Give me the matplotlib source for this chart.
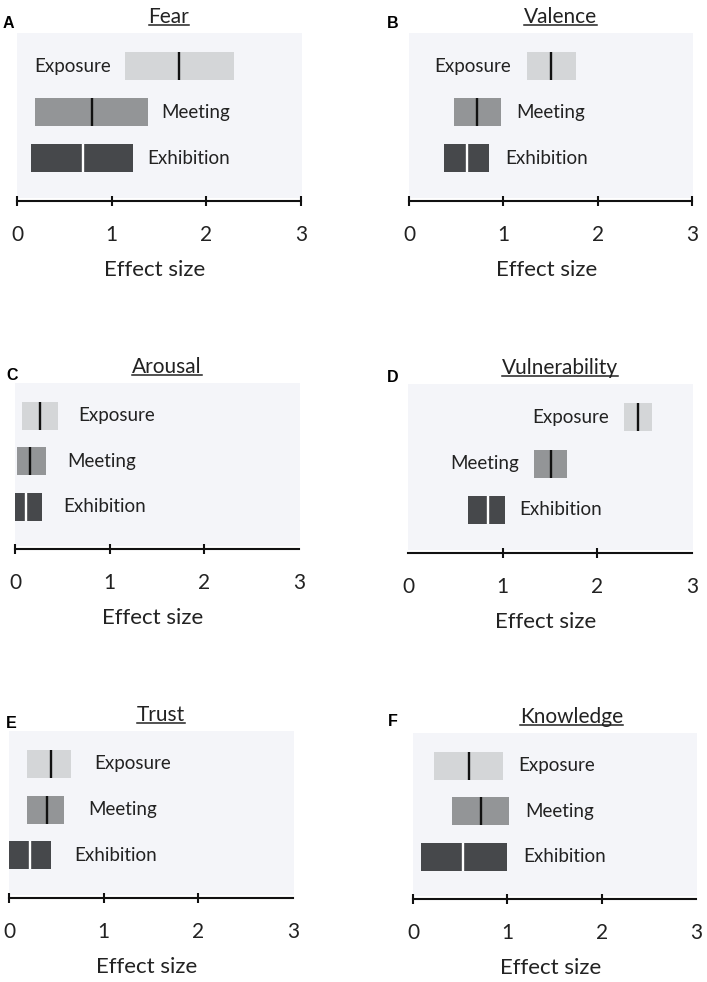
import matplotlib
matplotlib.use("Agg")
import matplotlib.pyplot as plt
from matplotlib.patches import Rectangle
from matplotlib.lines import Line2D

plt.rcParams["font.family"] = ["Lato", "DejaVu Sans"]

# data (effect sizes)
titles = ["Fear", "Valence", "Arousal", "Vulnerability", "Trust", "Knowledge"]
letters = ["A", "B", "C", "D", "E", "F"]
groups = ["Exposure", "Meeting", "Exhibition"]

lows = [
    [1.14, 0.19, 0.15],
    [1.25, 0.48, 0.37],
    [0.07, 0.02, 0.00],
    [2.28, 1.33, 0.63],
    [0.19, 0.19, 0.00],
    [0.22, 0.41, 0.09],
]
highs = [
    [2.29, 1.38, 1.23],
    [1.77, 0.97, 0.85],
    [0.45, 0.33, 0.29],
    [2.58, 1.68, 1.02],
    [0.65, 0.58, 0.44],
    [0.95, 1.02, 1.00],
]
mids = [
    [1.71, 0.79, 0.70],
    [1.50, 0.72, 0.61],
    [0.26, 0.16, 0.12],
    [2.43, 1.51, 0.84],
    [0.44, 0.40, 0.22],
    [0.59, 0.72, 0.53],
]
xticks = [0, 1, 2, 3]

# layout in pixels: x of 0, x of 3, box top, axis line
W, H = 707, 982
frames = [
    (17, 301, 33, 201),
    (409, 692, 33, 201),
    (15, 299, 383, 549),
    (408, 692, 384, 553),
    (9, 293, 731, 898),
    (413, 696, 733, 899),
]
letter_pos = [(8, 23), (393, 23), (12, 375), (393, 377), (11, 723), (393, 722)]
title_x = [0.535, 0.535, 0.535, 0.535, 0.535, 0.56]
tick_marks = [[0, 1, 2, 3], [0, 1, 2, 3], [0, 1, 2], [1, 2], [0, 1, 2], [0, 1, 2]]
sides = [
    ["left", "right", "right"],
    ["left", "right", "right"],
    ["right", "right", "right"],
    ["left", "left", "right"],
    ["right", "right", "right"],
    ["right", "right", "right"],
]
gaps = [14, 16, 21, 15, 24, 16]

bar_colors = ["#d4d6d8", "#939597", "#46484b"]
mid_colors = ["#111111", "#111111", "#ffffff"]
bg_color = "#f4f5f9"
PX = 72 / 100.0  # points per pixel

fig = plt.figure(figsize=(W / 100, H / 100), dpi=100)
fig.patch.set_facecolor("white")

title_texts = []
for i in range(6):
    x0, x3, top, axis_y = frames[i]
    ax = fig.add_axes([x0 / W, 1 - axis_y / H, (x3 - x0) / W, (axis_y - top) / H])
    ax.set_xlim(0, 3)
    ax.set_ylim(-0.93, 2.72)
    ax.patch.set_visible(False)
    ax.add_patch(Rectangle((-0.005, -0.86), 3.02, 3.58, facecolor=bg_color,
                           edgecolor="none", clip_on=False, zorder=0))

    ypos = [2, 1, 0]
    for j in range(3):
        y = ypos[j]
        ax.barh(y, highs[i][j] - lows[i][j], left=lows[i][j], height=0.61,
                color=bar_colors[j], zorder=2)
        ax.plot([mids[i][j], mids[i][j]], [y - 0.305, y + 0.305],
                color=mid_colors[j], linewidth=1.7, zorder=3,
                solid_capstyle="butt")
        if sides[i][j] == "left":
            ax.annotate(groups[j], (lows[i][j], y), xytext=(-gaps[i] * PX, 0),
                        textcoords="offset points", ha="right", va="center",
                        fontsize=13.5, color="#222222")
        else:
            ax.annotate(groups[j], (highs[i][j], y), xytext=(gaps[i] * PX, 0),
                        textcoords="offset points", ha="left", va="center",
                        fontsize=13.5, color="#222222")

    for s in ["top", "right", "left"]:
        ax.spines[s].set_visible(False)
    ax.spines["bottom"].set_linewidth(1.5)
    ax.spines["bottom"].set_color("#111111")
    ax.set_yticks([])
    ax.xaxis.remove_overlapping_locs = False
    ax.set_xticks(xticks)
    ax.set_xticklabels([str(t) for t in xticks])
    ax.tick_params(axis="x", which="major", length=0, pad=17, labelsize=15,
                   labelcolor="#222222")
    ax.set_xticks(tick_marks[i], minor=True)
    ax.tick_params(axis="x", which="minor", length=7, width=1.5,
                   direction="inout", color="#111111")
    ax.set_xlabel("Effect size", fontsize=16, color="#222222")
    ax.xaxis.set_label_coords(0.485, -(69) / (axis_y - top), transform=ax.transAxes)
    ax.xaxis.label.set_va("center")

    t = ax.annotate(titles[i], (title_x[i], 1), xycoords="axes fraction",
                    xytext=(0, 10 * PX), textcoords="offset points",
                    ha="center", va="baseline", fontsize=15, color="#222222")
    title_texts.append(t)

    lx, ly = letter_pos[i]
    fig.text(lx / W, 1 - ly / H, letters[i], ha="center", va="center",
             fontsize=11.5, fontweight="bold", family="Liberation Sans")

# underline the panel titles
fig.canvas.draw()
renderer = fig.canvas.get_renderer()
for t in title_texts:
    bb = t.get_window_extent(renderer)
    x_b, y_b = t.get_transform().transform(t.xy)
    base = y_b + 10 - 3.5
    fig.add_artist(Line2D([bb.x0 / W, bb.x1 / W], [base / H, base / H],
                          transform=fig.transFigure, color="#222222",
                          linewidth=1.1))

fig.savefig("out.png", dpi=100)
